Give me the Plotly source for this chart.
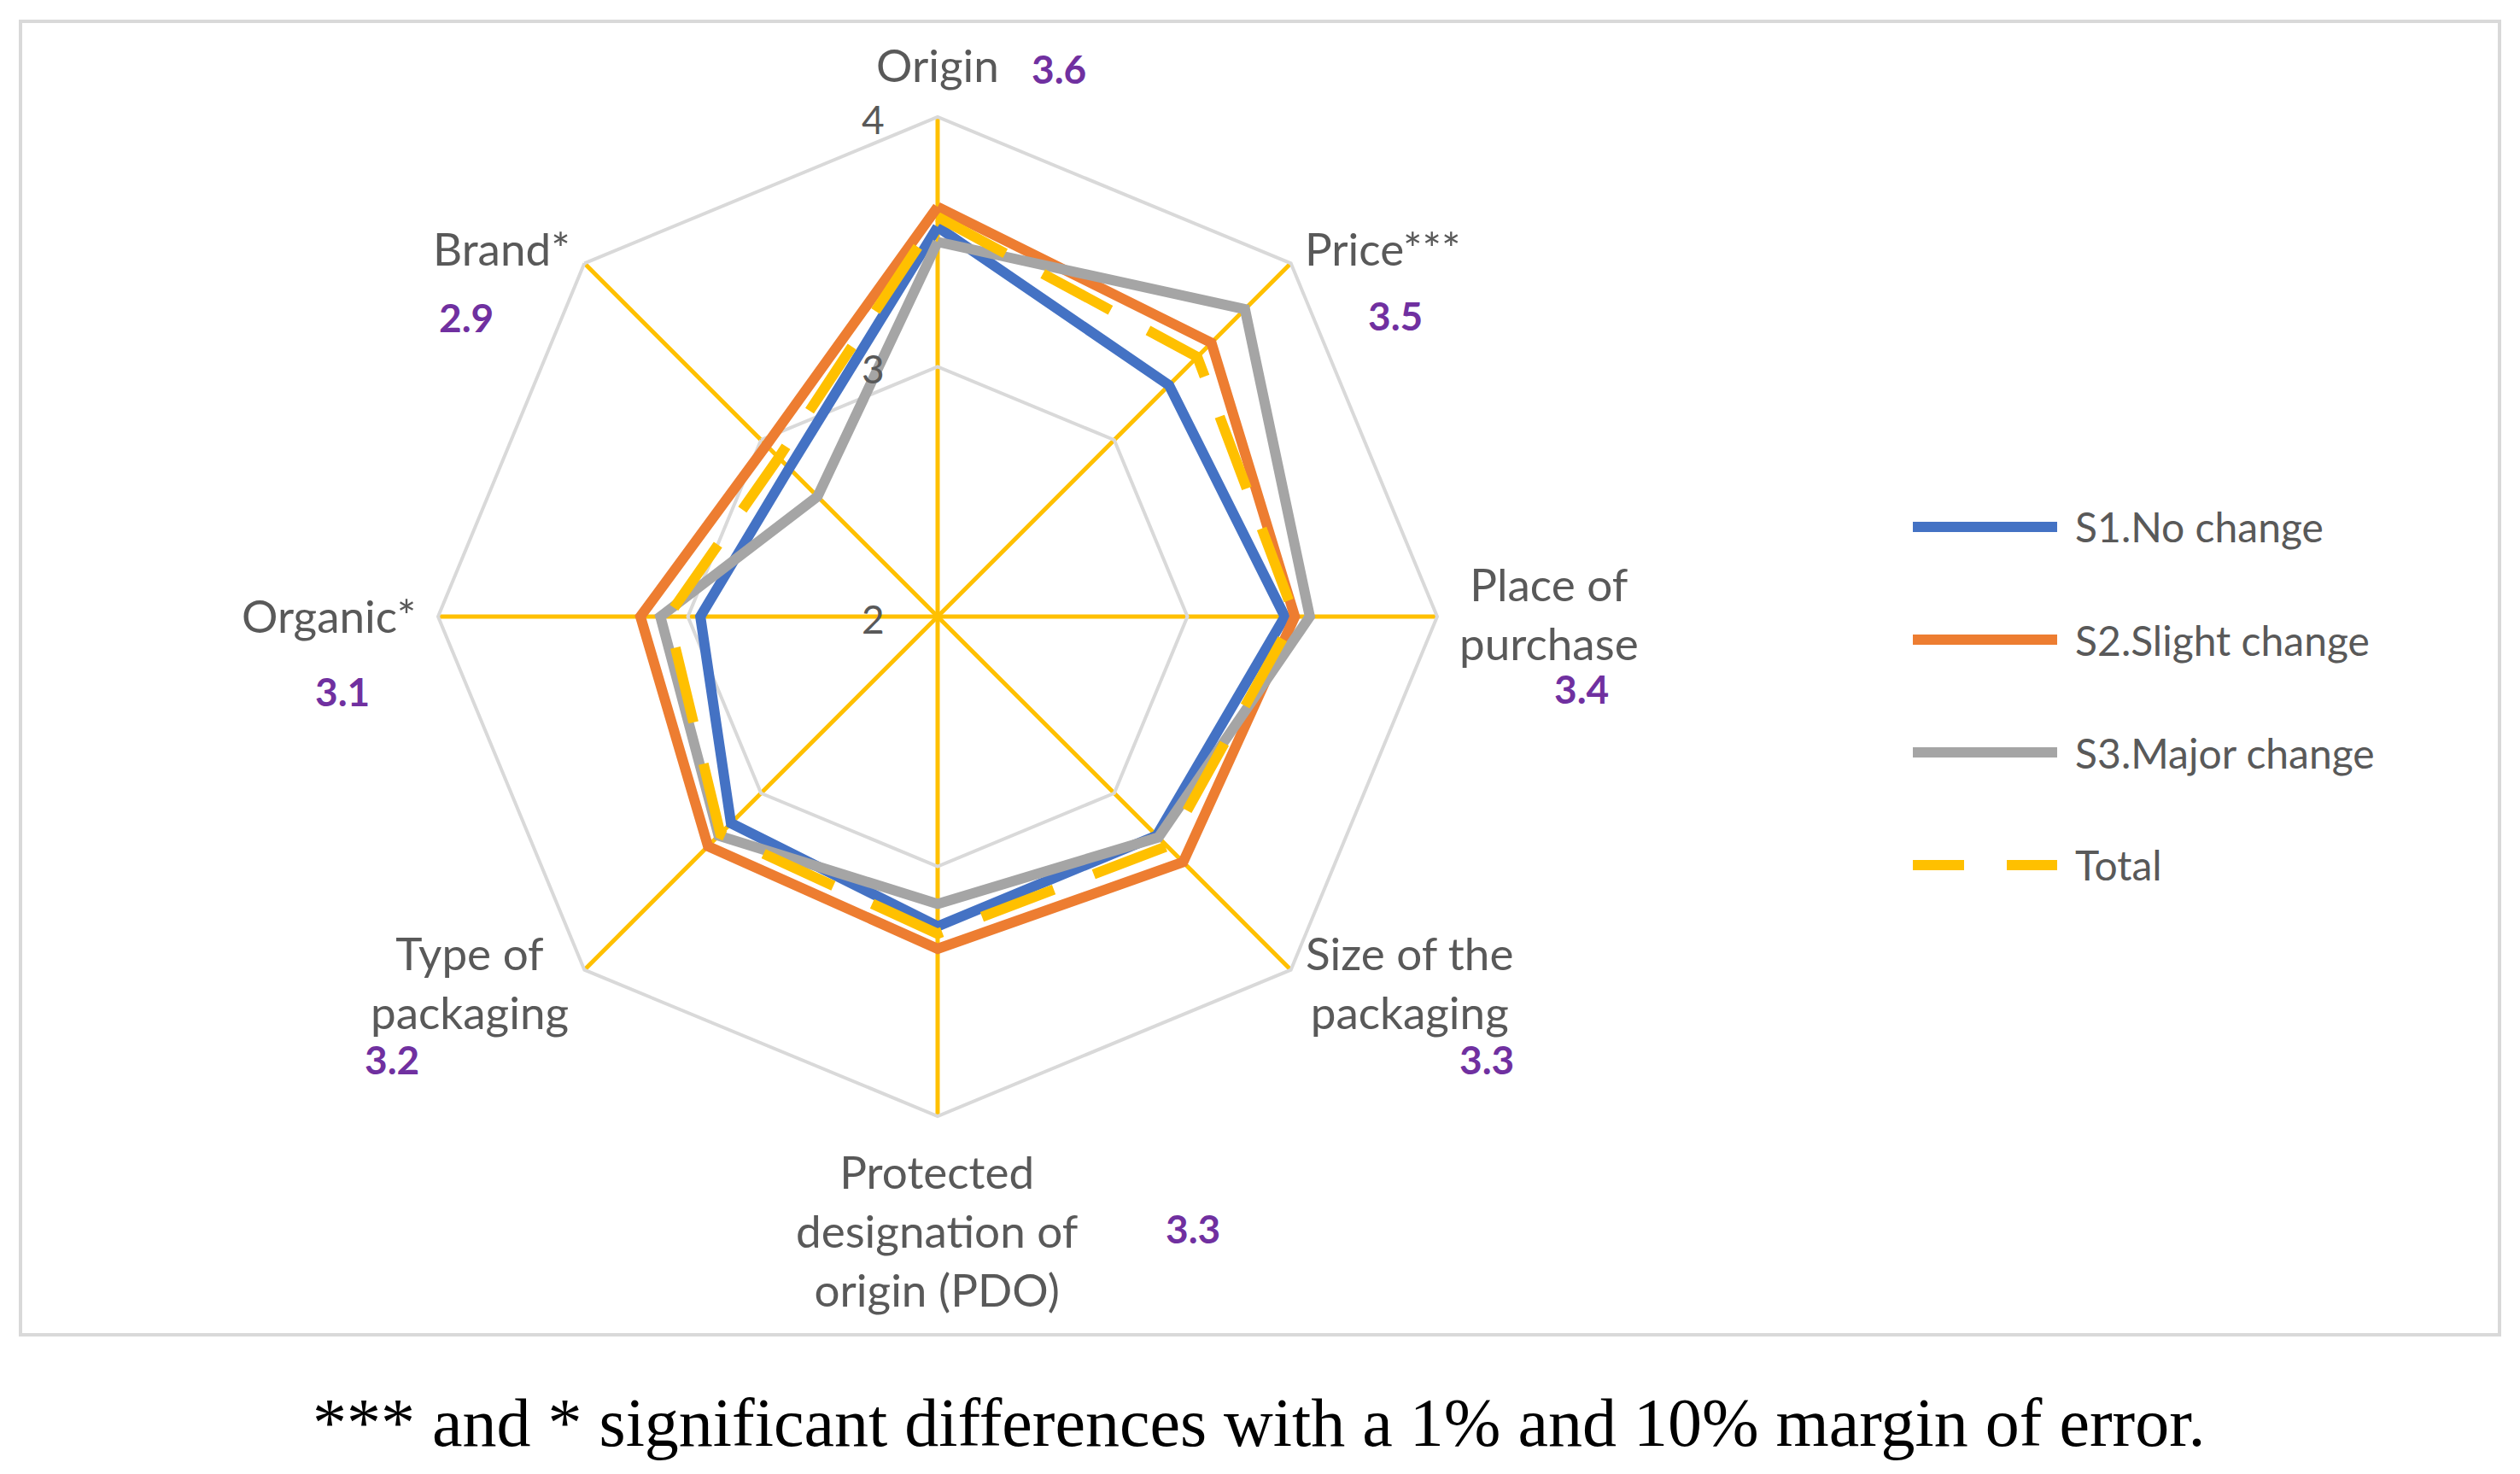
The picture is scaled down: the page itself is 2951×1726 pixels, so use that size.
import plotly.graph_objects as go

W, H = 2951, 1726
OFF = 8  # default page margin of the html body; figure is placed at (8, 8)
FW, FH = W - OFF, H - OFF

# ---------------- data ----------------
categories = ["Origin", "Price***", "Place of purchase", "Size of the packaging",
              "Protected designation of origin (PDO)", "Type of packaging", "Organic*", "Brand*"]
category_text = ["Origin", "Price***", "Place of<br>purchase", "Size of the<br>packaging",
                 "Protected<br>designation of<br>origin (PDO)", "Type of<br>packaging", "Organic*", "Brand*"]
s1_no_change = [3.56, 3.31, 3.39, 3.24, 3.24, 3.17, 2.95, 2.84]
s2_slight_change = [3.64, 3.55, 3.43, 3.39, 3.33, 3.30, 3.19, 2.97]
s3_major_change = [3.50, 3.74, 3.49, 3.25, 3.15, 3.24, 3.11, 2.68]
total = [3.60, 3.47, 3.43, 3.30, 3.27, 3.23, 3.08, 2.90]
total_labels = ["3.6", "3.5", "3.4", "3.3", "3.3", "3.2", "3.1", "2.9"]
radial_ticks = [2, 3, 4]
series_names = ["S1.No change", "S2.Slight change", "S3.Major change", "Total"]
caption = "*** and * significant differences with a 1% and 10% margin of error."

# ---------------- style ----------------
colors = ["#4472C4", "#ED7D31", "#A5A5A5", "#FFC000"]
dashes = ["solid", "solid", "solid", "90px,50px"]
LW = 12
TXT = "#595959"
PURPLE = "#7030A0"
FONT = "Lato"

# geometry (page pixels)
CX, CY, R = 1098, 722, 585
RMIN, RMAX = 2, 4

def px(x):
    return (x - OFF) / FW

def py(y):
    return 1 - (y - OFF) / FH

# label positions (page pixel x, y, xanchor)
label_pos = [(1098, 75, "center"), (1526, 290, "left"), (1814, 718, "center"),
             (1650, 1150, "center"), (1097, 1440, "center"), (550, 1150, "center"),
             (489, 721, "right"), (670, 290, "right")]
value_pos = [(1240, 80), (1634, 369), (1852, 806), (1741, 1240),
             (1397, 1438), (459, 1240), (401, 809), (546, 371)]
tick_dx, tick_dy = -76, 2
legend_x0, legend_x1, legend_tx = 2240, 2409, 2428
legend_y = [617, 749, 881, 1013]

fig = go.Figure()
for name, vals, c, d in zip(series_names,
                            [s1_no_change, s2_slight_change, s3_major_change, total],
                            colors, dashes):
    fig.add_trace(go.Scatterpolar(
        r=vals + vals[:1], theta=categories + categories[:1],
        mode="lines", name=name, showlegend=False,
        line=dict(color=c, width=LW, dash=d),
    ))

fig.update_layout(
    width=FW, height=FH,
    margin=dict(l=0, r=0, t=0, b=0),
    paper_bgcolor="white",
    plot_bgcolor="white",
    font=dict(family=FONT, color=TXT, size=50),
    polar=dict(
        domain=dict(x=[px(CX - R), px(CX + R)], y=[py(CY + R), py(CY - R)]),
        bgcolor="rgba(0,0,0,0)",
        gridshape="linear",
        radialaxis=dict(
            range=[RMIN, RMAX], tickvals=radial_ticks,
            angle=90, showline=False, showticklabels=False, ticks="",
            showgrid=True, gridcolor="#D9D9D9", gridwidth=4,
        ),
        angularaxis=dict(
            categoryorder="array", categoryarray=categories,
            rotation=90, direction="clockwise",
            showticklabels=False, ticks="",
            showgrid=True, gridcolor="#FFC000", gridwidth=5,
            showline=True, linecolor="#D9D9D9", linewidth=4,
        ),
    ),
)

annotations = []
# radial tick labels (placed on the radial scale, left of the vertical spoke)
for v in radial_ticks:
    y = CY - (v - RMIN) / (RMAX - RMIN) * R + tick_dy
    annotations.append(dict(text=str(v), x=px(CX + tick_dx), y=py(y), xref="paper", yref="paper",
                            xanchor="center", yanchor="middle", showarrow=False,
                            font=dict(family=FONT, size=46, color=TXT)))
for txt, (x, y, xa) in zip(category_text, label_pos):
    annotations.append(dict(text=txt, x=px(x), y=py(y), xref="paper", yref="paper",
                            xanchor=xa, yanchor="middle", showarrow=False, align="center",
                            font=dict(family=FONT, size=53, color=TXT)))
for txt, (x, y) in zip(total_labels, value_pos):
    annotations.append(dict(text="<b>" + txt + "</b>", x=px(x), y=py(y), xref="paper", yref="paper",
                            xanchor="center", yanchor="middle", showarrow=False,
                            font=dict(family=FONT, size=46, color=PURPLE)))
shapes = []
for name, c, d, y in zip(series_names, colors, dashes, legend_y):
    shapes.append(dict(type="line", xref="paper", yref="paper",
                       x0=px(legend_x0), x1=px(legend_x1), y0=py(y), y1=py(y),
                       line=dict(color=c, width=LW, dash=("60px,50px" if d != "solid" else "solid"))))
    annotations.append(dict(text=name, x=px(legend_tx), y=py(y), xref="paper", yref="paper",
                            xanchor="left", yanchor="middle", showarrow=False,
                            font=dict(family=FONT, size=48, color=TXT)))
# frame
shapes.append(dict(type="rect", xref="paper", yref="paper", x0=px(24), x1=px(2927),
                   y0=py(1563), y1=py(25), line=dict(color="#D9D9D9", width=4),
                   fillcolor="rgba(0,0,0,0)", layer="below"))
annotations.append(dict(text=caption, x=px(1474), y=py(1666), xref="paper", yref="paper",
                        xanchor="center", yanchor="middle", showarrow=False,
                        font=dict(family="Liberation Serif", size=80, color="black")))

fig.update_layout(annotations=annotations, shapes=shapes)
fig.write_html("out.html")
